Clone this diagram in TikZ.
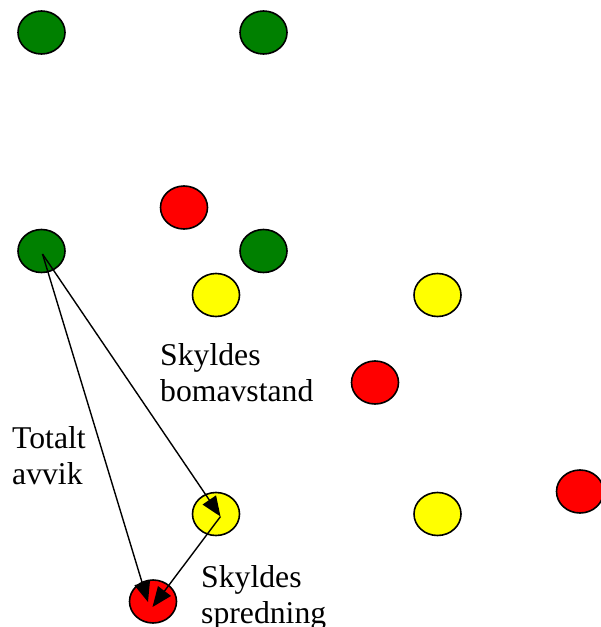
\documentclass[tikz,border=0pt]{standalone}
\usepackage{fontspec}
\setmainfont{Liberation Serif}
\usetikzlibrary{arrows.meta,shapes.geometric}
\definecolor{dotgreen}{RGB}{0,128,0}
\definecolor{dotred}{RGB}{255,0,0}
\definecolor{dotyellow}{RGB}{255,255,0}
\begin{document}
\begin{tikzpicture}[x=1pt,y=-1pt,
  dot/.style={ellipse,draw=black,line width=1.6pt,minimum width=47pt,minimum height=43pt,inner sep=0pt},
  gdot/.style={dot,fill=dotgreen},
  rdot/.style={dot,fill=dotred},
  ydot/.style={dot,fill=dotyellow},
  lbl/.style={anchor=north west,inner sep=0pt,align=left,font=\fontsize{31.7}{36}\selectfont},
  arr/.style={line width=1.4pt,-{Triangle[length=20pt,width=16pt]}}
]
\useasboundingbox (0,0) rectangle (601,627);
\node[gdot] (g1) at (41.5,32.5) {};
\node[gdot] (g2) at (263.5,32.5) {};
\node[rdot] (r1) at (184,207.5) {};
\node[gdot] (g3) at (41.5,251) {};
\node[gdot] (g4) at (263.5,251) {};
\node[ydot] (y1) at (216,295) {};
\node[ydot] (y2) at (437.5,295) {};
\node[rdot] (r2) at (375,382.5) {};
\node[rdot] (r3) at (580,491.5) {};
\node[ydot] (y3) at (216,514) {};
\node[ydot] (y4) at (437.5,514) {};
\node[rdot] (r4) at (153,601.5) {};
\coordinate (s) at (42.5,254);
\coordinate (ty) at (220.5,516.5);
\coordinate (tr1) at (148,602);
\coordinate (tr2) at (152.5,607);
\draw[arr] (s) -- (ty);
\draw[arr] (s) -- (tr1);
\draw[arr] (ty) -- (tr2);
\node[lbl] (t1) at (160,343.3) {Skyldes\\bomavstand};
\node[lbl] (t2) at (12,426.3) {Totalt\\avvik};
\node[lbl] (t3) at (201,565.3) {Skyldes\\spredning};
\end{tikzpicture}
\end{document}
